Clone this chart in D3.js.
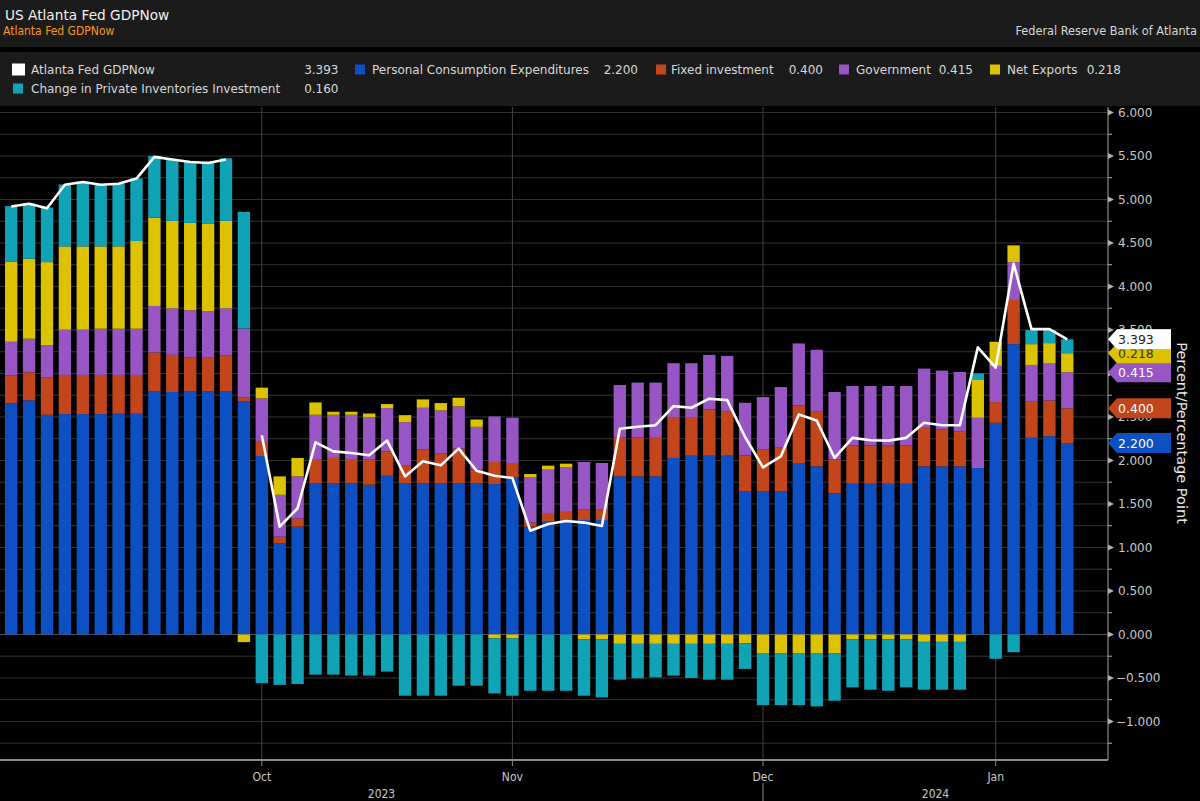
<!DOCTYPE html>
<html><head><meta charset="utf-8">
<script src="https://cdn.jsdelivr.net/npm/d3@7"></script>
<style>
html,body{margin:0;padding:0;background:#000;}
svg{display:block;font-family:"DejaVu Sans",sans-serif;}
</style></head><body>
<svg id="chart" width="1200" height="801"></svg>
<script>
// ---------------- DATA ----------------
const observations = d3.range(60); // sequential GDPNow releases (x categories)
const pce    = [2.656,2.691,2.525,2.533,2.533,2.533,2.537,2.537,2.794,2.787,2.794,2.794,2.794,2.683,2.051,1.047,1.239,1.740,1.740,1.740,1.721,1.824,1.740,1.740,1.740,1.740,1.740,1.729,1.805,1.239,1.297,1.316,1.316,1.316,1.817,1.817,1.817,2.029,2.055,2.055,2.055,1.644,1.644,1.644,1.971,1.932,1.624,1.732,1.732,1.732,1.732,1.932,1.932,1.932,1.913,2.433,3.337,2.260,2.279,2.200];
const fixedInv = [0.323,0.323,0.427,0.450,0.450,0.450,0.446,0.446,0.447,0.427,0.393,0.393,0.416,0.039,0.173,0.077,0.092,0.277,0.289,0.277,0.288,0.281,0.200,0.385,0.339,0.396,0.154,0.254,0.166,0.047,0.089,0.093,0.124,0.124,0.450,0.450,0.443,0.462,0.436,0.532,0.512,0.415,0.481,0.508,0.662,0.628,0.385,0.439,0.439,0.439,0.439,0.443,0.424,0.405,0.000,0.238,0.508,0.415,0.412,0.400];
const government = [0.385,0.385,0.374,0.520,0.520,0.531,0.531,0.531,0.535,0.535,0.539,0.527,0.539,0.796,0.489,0.481,0.486,0.508,0.496,0.508,0.489,0.497,0.500,0.481,0.496,0.485,0.492,0.523,0.520,0.519,0.508,0.511,0.543,0.531,0.600,0.628,0.635,0.627,0.627,0.627,0.635,0.604,0.604,0.692,0.712,0.712,0.778,0.685,0.685,0.685,0.685,0.681,0.677,0.680,0.578,0.416,0.435,0.423,0.423,0.415];
const netExports = [0.924,0.920,0.954,0.958,0.958,0.947,0.947,1.009,1.016,1.005,1.005,1.005,1.005,-0.088,0.124,0.212,0.212,0.142,0.035,0.035,0.042,0.046,0.081,0.096,0.085,0.100,0.085,-0.045,-0.045,0.039,0.046,0.043,-0.058,-0.058,-0.108,-0.108,-0.108,-0.108,-0.108,-0.108,-0.108,-0.100,-0.220,-0.220,-0.220,-0.220,-0.220,-0.058,-0.058,-0.058,-0.058,-0.085,-0.085,-0.085,0.442,0.277,0.193,0.239,0.235,0.218];
const inventories = [0.635,0.635,0.628,0.712,0.743,0.712,0.720,0.719,0.708,0.708,0.712,0.716,0.719,1.340,-0.560,-0.579,-0.569,-0.462,-0.462,-0.473,-0.473,-0.427,-0.704,-0.704,-0.704,-0.589,-0.589,-0.633,-0.659,-0.647,-0.647,-0.647,-0.646,-0.666,-0.412,-0.396,-0.385,-0.365,-0.392,-0.412,-0.412,-0.296,-0.592,-0.592,-0.592,-0.607,-0.542,-0.550,-0.577,-0.589,-0.550,-0.550,-0.550,-0.550,0.069,-0.280,-0.204,0.162,0.150,0.160];
const gdpNow = [4.92,4.95,4.90,5.17,5.20,5.17,5.18,5.24,5.49,5.46,5.43,5.42,5.46,null,2.29,1.239,1.451,2.209,2.105,2.086,2.059,2.229,1.817,1.99,1.944,2.136,1.882,1.824,1.798,1.193,1.27,1.305,1.286,1.247,2.364,2.387,2.405,2.625,2.606,2.71,2.694,2.27,1.92,2.048,2.529,2.46,2.029,2.26,2.232,2.228,2.26,2.433,2.405,2.405,3.30,3.068,4.261,3.51,3.51,3.393];

const seriesKeys   = ["pce","fixed","gov","netex","inv"];
const seriesNames  = ["Personal Consumption Expenditures","Fixed investment","Government","Net Exports","Change in Private Inventories Investment"];
const seriesColors = ["#0c50c4","#c2451c","#9856c4","#dcc200","#10a3b6"];
const lineName = "Atlanta Fed GDPNow";
const lastValues = ["2.200","0.400","0.415","0.218","0.160"];
const lastLine = "3.393";

const monthLabels = ["Oct","Nov","Dec","Jan"];
const monthObs    = [14,28,42,55];
const yearLabels  = ["2023","2024"];
const yTicks = d3.range(-1, 6.001, 0.5);
const yGrid  = d3.range(-1.25, 6.001, 0.25);

// ---------------- BUILD ----------------
const rows = observations.map(i => ({i, pce:pce[i], fixed:fixedInv[i], gov:government[i], netex:netExports[i], inv:inventories[i]}));
const stacked = d3.stack().keys(seriesKeys).offset(d3.stackOffsetDiverging)(rows);

const svg = d3.select("#chart");
const W = 1200, H = 801;
const plotL = 0, plotR = 1108, plotT = 107, plotB = 760;

svg.append("rect").attr("width",W).attr("height",H).attr("fill","#000");
svg.append("rect").attr("x",0).attr("y",0).attr("width",W).attr("height",47).attr("fill","#1b1b1b");
svg.append("rect").attr("x",0).attr("y",52).attr("width",W).attr("height",54).attr("fill","#1b1b1b");

const x = d3.scaleBand().domain(observations).range([2.25, 2.25 + 60*17.9]).paddingInner(0.31).paddingOuter(0.155);
const y = d3.scaleLinear().domain([-1.443, 6.063]).range([plotB, plotT]);
const bw = x.bandwidth();
const cx = i => x(i) + bw/2;

// grid
svg.append("g").selectAll("line").data(yGrid).join("line")
  .attr("x1",plotL).attr("x2",plotR).attr("y1",d=>y(d)).attr("y2",d=>y(d))
  .attr("stroke", d => Math.abs(d) < 1e-9 ? "#555" : "#333").attr("stroke-width",1);
svg.append("g").selectAll("line").data(monthObs).join("line")
  .attr("x1",d=>cx(d)).attr("x2",d=>cx(d)).attr("y1",plotT).attr("y2",plotB)
  .attr("stroke","#454545").attr("stroke-width",1);

// bars
const gBars = svg.append("g");
stacked.forEach((s, k) => {
  gBars.append("g").attr("fill", seriesColors[k]).selectAll("rect").data(s).join("rect")
    .attr("x", d => x(d.data.i)).attr("width", bw)
    .attr("y", d => y(Math.max(d[0], d[1])))
    .attr("height", d => Math.abs(y(d[0]) - y(d[1])));
});

// line
const line = d3.line().defined(d => d.v != null).x(d => cx(d.i)).y(d => y(d.v));
svg.append("path").datum(observations.map(i => ({i, v: gdpNow[i]})))
  .attr("d", line).attr("fill","none").attr("stroke","#fff").attr("stroke-width",2.6).attr("stroke-linejoin","round");

// right axis
svg.append("line").attr("x1",plotR).attr("x2",plotR).attr("y1",plotT).attr("y2",plotB).attr("stroke","#8a8a8a").attr("stroke-width",1.2);
const fmt = d3.format(".3f");
const yAx = svg.append("g");
yAx.selectAll("path.maj").data(yTicks).join("path").attr("class","maj")
  .attr("d", d => `M${plotR},${y(d)-3}L${plotR+6},${y(d)}L${plotR},${y(d)+3}Z`).attr("fill","#b0b0b0");
yAx.selectAll("line.min").data(yGrid.filter(v => !yTicks.some(t => Math.abs(t - v) < 1e-9))).join("line").attr("class","min")
  .attr("x1",plotR).attr("x2",plotR+4).attr("y1",d=>y(d)).attr("y2",d=>y(d)).attr("stroke","#b0b0b0");
yAx.selectAll("text").data(yTicks).join("text")
  .attr("x", d => d < 0 ? plotR+8 : plotR+10).attr("y", d => y(d)).attr("dy","0.35em")
  .attr("font-size",12).attr("fill","#c8c8c8").text(d => fmt(d));

// x axis
svg.append("line").attr("x1",0).attr("x2",plotR).attr("y1",plotB).attr("y2",plotB).attr("stroke","#8a8a8a").attr("stroke-width",2);
svg.append("g").selectAll("line").data(monthObs).join("line")
  .attr("x1",d=>cx(d)).attr("x2",d=>cx(d)).attr("y1",plotB).attr("y2",plotB+6).attr("stroke","#8a8a8a");
svg.append("g").selectAll("text").data(monthLabels).join("text")
  .attr("x",(d,k)=>cx(monthObs[k])).attr("y",777).attr("dy","0.35em").attr("text-anchor","middle")
  .attr("font-size",12).attr("font-family","DejaVu Sans Condensed").attr("fill","#c8c8c8").text(d=>d);
const yearSep = cx(monthObs[2]);
svg.append("line").attr("x1",yearSep).attr("x2",yearSep).attr("y1",783).attr("y2",801).attr("stroke","#8a8a8a");
const yearCenters = [(0 + yearSep)/2, (yearSep + plotR)/2];
svg.append("g").selectAll("text").data(yearLabels).join("text")
  .attr("x",(d,k)=>yearCenters[k]).attr("y",794).attr("dy","0.35em").attr("text-anchor","middle")
  .attr("font-size",12).attr("font-family","DejaVu Sans Condensed").attr("fill","#c8c8c8").text(d=>d);

// axis title
svg.append("text").attr("transform","translate(1177,433) rotate(90)").attr("text-anchor","middle")
  .attr("font-size",14.5).attr("fill","#e8e8e8").text("Percent/Percentage Point");

// value tags (last observation)
const last = rows.length - 1;
function tag(yc, fill, tcol, label){
  const g = svg.append("g");
  g.append("path").attr("d",`M${plotR},${yc}L${plotR+9},${yc-10}L1171,${yc-10}L1171,${yc+10}L${plotR+9},${yc+10}Z`).attr("fill",fill);
  g.append("text").attr("x",plotR+10).attr("y",yc).attr("dy","0.36em").attr("font-size",12.5).attr("fill",tcol).text(label);
}
const tagText = ["#fff","#fff","#fff","#3a3300","#fff"];
stacked.forEach((s,k) => { tag(y(s[last][1]), seriesColors[k], tagText[k], lastValues[k]); });
tag(y(gdpNow[last]), "#ffffff", "#222", lastLine);

// header text
svg.append("text").attr("x",5).attr("y",20).attr("font-size",13.7).attr("fill","#f0f0f0").text("US Atlanta Fed GDPNow");
svg.append("text").attr("x",3).attr("y",35).attr("font-size",12).attr("font-family","DejaVu Sans Condensed").attr("fill","#f59a1e").text("Atlanta Fed GDPNow");
svg.append("text").attr("x",1197).attr("y",35).attr("text-anchor","end").attr("font-size",12.6).attr("font-family","DejaVu Sans Condensed").attr("fill","#d8d8d8").text("Federal Reserve Bank of Atlanta");

// legend
const lg = svg.append("g").attr("font-size",12).attr("fill","#d8d8d8");
lg.append("rect").attr("x",12).attr("y",63.5).attr("width",13).attr("height",12).attr("fill","#fff");
lg.append("text").attr("x",31).attr("y",74).text(lineName);
lg.append("text").attr("x",338.5).attr("y",74).attr("text-anchor","end").text(lastLine);
const legSq   = [355,656,839,990,13];
const legTx   = [372,671,856,1007,31];
const legEnd  = [638,823,973,1121,338.5];
const legRowY = [74,74,74,74,93];
seriesNames.forEach((n,k) => {
  lg.append("rect").attr("x",legSq[k]).attr("y",legRowY[k]-9.5).attr("width",10).attr("height",10).attr("fill",seriesColors[k]);
  lg.append("text").attr("x",legTx[k]).attr("y",legRowY[k]).text(n);
  lg.append("text").attr("x",legEnd[k]).attr("y",legRowY[k]).attr("text-anchor","end").text(lastValues[k]);
});
</script>
</body></html>
